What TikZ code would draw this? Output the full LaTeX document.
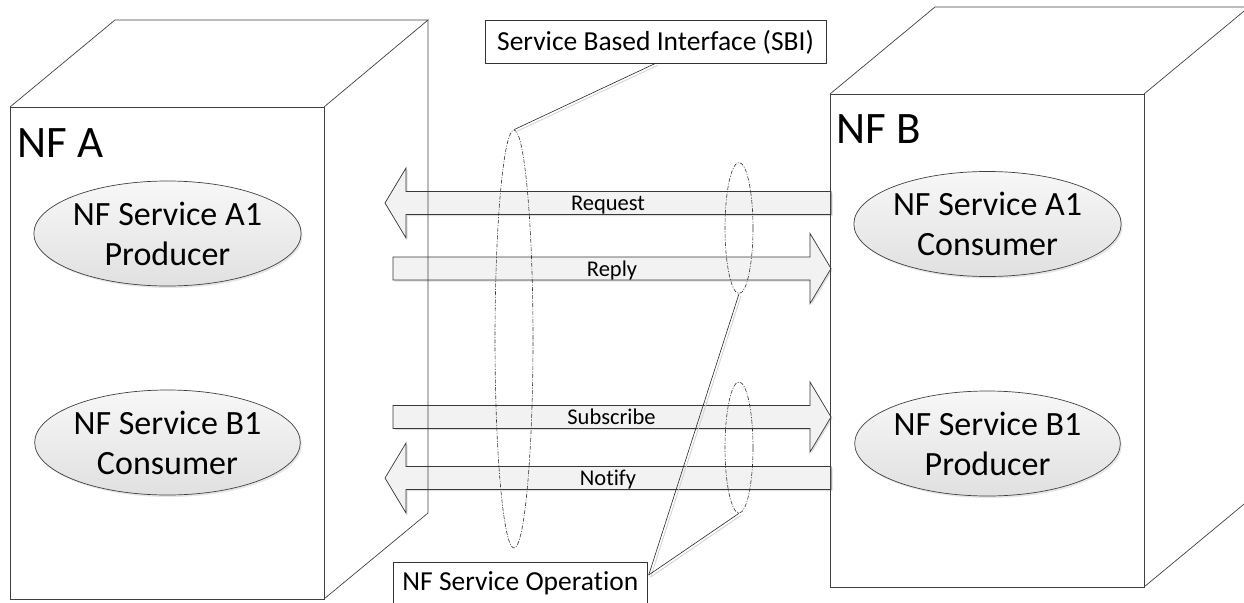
\documentclass[tikz,border=0pt]{standalone}
\usepackage{fontspec}
\setmainfont{Carlito}[Ligatures=NoCommon]
\usetikzlibrary{shapes.geometric,shadows,calc}
\begin{document}
\begin{tikzpicture}[x=1pt,y=-1pt,
  edge/.style={draw=black!75,line width=0.7pt},
  fatarrow/.style={draw=black!78,line width=0.7pt,fill=black!5,
    drop shadow={shadow xshift=1.5pt,shadow yshift=-1.5pt,opacity=0.25}},
  pics/fat right/.style={code={
    \draw[fatarrow] (0,-11.5) -- (417,-11.5) -- (417,-35) -- (438,0)
      -- (417,35) -- (417,11.5) -- (0,11.5) -- cycle;}},
  pics/fat left/.style={code={
    \draw[fatarrow] (0,-11.5) -- (-425,-11.5) -- (-425,-35) -- (-446,0)
      -- (-425,35) -- (-425,11.5) -- (0,11.5) -- cycle;}},
  svc/.style={ellipse,draw=black!75,line width=0.7pt,inner sep=0pt,
    minimum width=265pt,minimum height=105pt,align=center,
    top color=black!3,bottom color=black!12,
    drop shadow={shadow xshift=1.5pt,shadow yshift=-2pt,opacity=0.2},
    font=\fontsize{34}{40}\selectfont},
  ring/.style={ellipse,draw=black!80,line width=0.6pt,inner sep=0pt,
    dash pattern=on 4pt off 1.5pt on 1pt off 1.5pt},
  callbox/.style={draw=black!80,line width=0.7pt,fill=white,inner sep=0pt,
    font=\fontsize{27.5}{33}\selectfont,text height=18pt},
  callout/.style={draw=black!85,line width=0.6pt},
  callshade/.style={draw=black!18,line width=0.8pt},
  lbl/.style={inner sep=0pt,font=\fontsize{22.5}{27}\selectfont},
  title/.style={inner sep=0pt,anchor=base west,font=\fontsize{45}{54}\selectfont}
]
\useasboundingbox (0,0) rectangle (1244,602);
\clip (0,0) rectangle (1244,602);

% message arrows between the two functions
\coordinate (req) at (831,203);
\coordinate (rep) at (393,268.5);
\coordinate (sub) at (393,417);
\coordinate (ntf) at (831,478);
\pic at (req) {fat left};
\pic at (rep) {fat right};
\pic at (sub) {fat right};
\pic at (ntf) {fat left};

% NF A cube
\draw[edge] (10,107) rectangle (324,599);
\draw[edge] (10,107) -- (115,20) -- (428,20) -- (324,107);
\draw[edge] (428,20) -- (428,513) -- (324,599);
% NF B cube
\draw[edge] (830,94) rectangle (1144,587);
\draw[edge] (830,94) -- (935,7) -- (1249,7) -- (1144,94);
\draw[edge] (1249,7) -- (1249,500) -- (1144,587);

\node[title] (nfa) at (17,157) {NF A};
\node[title] (nfb) at (836,143) {NF B};

% services
\node[svc] (a1p) at (167.5,233.5) {NF Service A1\\Producer};
\node[svc] (b1c) at (167.5,442.5) {NF Service B1\\Consumer};
\node[svc] (a1c) at (987.5,224) {NF Service A1\\Consumer};
\node[svc] (b1p) at (987.5,443.5) {NF Service B1\\Producer};

% arrow labels
\node[lbl,anchor=base] (lreq) at (608,210) {Request};
\node[lbl,anchor=base] (lrep) at (612,276) {Reply};
\node[lbl,anchor=base] (lsub) at (611.5,424) {Subscribe};
\node[lbl,anchor=base] (lntf) at (608,485) {Notify};

% interface and operation groupings
\node[ring,minimum width=38pt,minimum height=418pt] (sbiring) at (514,339) {};
\node[ring,minimum width=28pt,minimum height=131pt] (opA) at (739,228) {};
\node[ring,minimum width=28pt,minimum height=131pt] (opB) at (739,447.5) {};

% callouts
\node[callbox,minimum width=341pt,minimum height=43pt,text depth=0pt]
  (sbi) at (655.5,41.5) {Service Based Interface (SBI)};
\node[callbox,anchor=north west,minimum width=254pt,minimum height=60pt,
  text depth=22pt] (nfso) at (393,562) {NF Service Operation};
\coordinate (opj) at ($(nfso.north east)+(1,13)$);

\draw[callshade] ([shift={(2,2)}]sbi.south) -- ([shift={(2,2)}]sbiring.north);
\draw[callshade] ([shift={(2,2)}]opj) -- ([shift={(2,2)}]opA.south);
\draw[callshade] ([shift={(2,2)}]opj) -- ([shift={(2,2)}]opB.south);
\draw[callout] (sbi.south) -- (sbiring.north);
\draw[callout] (opj) -- (opA.south);
\draw[callout] (opj) -- (opB.south);
\end{tikzpicture}
\end{document}
